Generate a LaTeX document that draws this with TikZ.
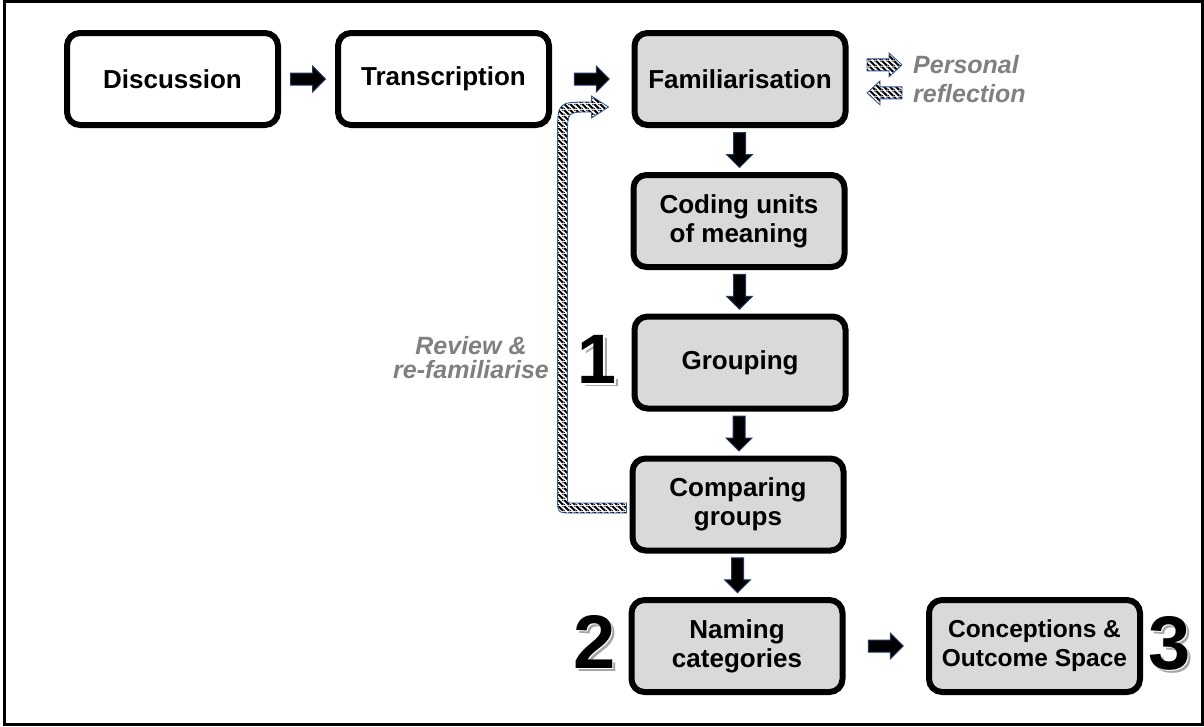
\documentclass[tikz,border=0pt]{standalone}
\usepackage{fontspec}
\setmainfont{Liberation Sans}
\usetikzlibrary{calc,patterns.meta}

\definecolor{boxfill}{HTML}{D9D9D9}
\definecolor{notegray}{HTML}{808080}
\definecolor{tipblue}{HTML}{203864}
\definecolor{loopblue}{HTML}{2F5597}
\definecolor{shadowgray}{HTML}{A6A6A6}

% diagonal black/white hatching used for the reflection and review arrows
\tikzdeclarepattern{
  name=hatch,
  type=colored,
  bounding box={(0pt,0pt) and (6pt,6pt)},
  tile size={(6pt,6pt)},
  code={
    \fill[white] (0pt,0pt) rectangle (6pt,6pt);
    \fill[black] (0pt,4.4pt) -- (0pt,6pt) -- (1.6pt,6pt) -- (6pt,1.6pt)
      -- (6pt,0pt) -- (4.4pt,0pt) -- cycle;
    \fill[black] (0pt,0pt) -- (1.6pt,0pt) -- (0pt,1.6pt) -- cycle;
    \fill[black] (6pt,6pt) -- (4.4pt,6pt) -- (6pt,4.4pt) -- cycle;
  }
}

\newcommand\phasedigit[1]{%
  \makebox[0pt][l]{\kern3.5pt\raisebox{-3pt}{\color{shadowgray}#1}}%
  \makebox[0pt][l]{\kern1.5pt\raisebox{-1.5pt}{\color{white}#1}}%
  #1}

\tikzset{
  stage/.style={draw=black, line width=6pt, rounded corners=13pt,
    minimum width=211pt, minimum height=92pt, inner sep=0pt,
    align=center, font=\fontsize{26}{29}\selectfont\bfseries},
  note/.style={text=notegray, inner sep=0pt,
    font=\fontsize{25}{29}\selectfont\bfseries\itshape},
  bignum/.style={inner sep=0pt, font=\fontsize{76}{76}\selectfont\bfseries},
  blockarrow/.pic={
    \filldraw[fill=black, draw=tipblue, line width=1pt]
      (-17.5,-6) -- (4.5,-6) -- (4.5,-13) -- (17.5,0) -- (4.5,13)
      -- (4.5,6) -- (-17.5,6) -- cycle;
  },
  checkarrow/.pic={
    \filldraw[pattern=hatch, draw=loopblue, line width=0.8pt]
      (-17.5,-6) -- (4.5,-6) -- (4.5,-12) -- (17.5,0) -- (4.5,12)
      -- (4.5,6) -- (-17.5,6) -- cycle;
  },
}

\begin{document}
\begin{tikzpicture}[x=1pt, y=-1pt]
\useasboundingbox (0,0) rectangle (1204,726);

% outer frame
\draw[line width=2.5pt] (4.5,1.5) rectangle (1202.5,724.5);

% process stages
\node[stage, fill=white]   (disc)  at (172.5,79)  {Discussion};
\node[stage, fill=white]   (trans) at (443.5,79)  {Transcription};
\node[stage, fill=boxfill] (fam)   at (740,79)    {Familiarisation};
\node[stage, fill=boxfill] (code)  at (739,221)   {Coding units\\of meaning};
\node[stage, fill=boxfill] (group) at (740,362.5) {Grouping};
\node[stage, fill=boxfill] (comp)  at (738,504.5) {Comparing\\groups};
\node[stage, fill=boxfill] (name)  at (737,646)   {Naming\\categories};
\node[stage, fill=boxfill, font=\fontsize{24.5}{29}\selectfont\bfseries]
  (conc) at (1034.5,646) {Conceptions \&\\Outcome Space};

% flow arrows between stages
\pic at ($(disc.east)!0.5!(trans.west)$) {blockarrow};
\pic at ($(trans.east)!0.5!(fam.west)$) {blockarrow};
\pic[rotate=-90] at ($(fam.south)!0.5!(code.north)$) {blockarrow};
\pic[rotate=-90] at ($(code.south)!0.5!(group.north)$) {blockarrow};
\pic[rotate=-90] at ($(group.south)!0.5!(comp.north)$) {blockarrow};
\pic[rotate=-90] at ($(comp.south)!0.5!(name.north)$) {blockarrow};
\pic at ($(name.east)!0.5!(conc.west)$) {blockarrow};

% personal reflection
\node[note, anchor=north west, align=left] (refl) at (913,55) {Personal\\reflection};
\pic at ($(refl.west)+(-28.5,-14)$) {checkarrow};
\pic[rotate=180] at ($(refl.west)+(-28.5,14)$) {checkarrow};

% review loop from comparing groups back to familiarisation
\coordinate (fbtail) at ($(comp.west)+(-3,3.5)$);
\coordinate (fbtip)  at ($(fam.west)+(-23,28)$);
\coordinate (fbx)    at ($(fbtail)+(-64,0)$);
\coordinate (fbc)    at (fbx |- fbtip);
\coordinate (fbb)    at (fbx |- fbtail);
\filldraw[pattern=hatch, draw=loopblue, line width=0.8pt]
  ($(fbtail)+(0,5)$) -- ($(fbb)+(10,5)$)
  .. controls ($(fbb)+(-5,5)$) .. ($(fbb)+(-5,-10)$)
  -- ($(fbc)+(-5,28)$)
  .. controls ($(fbc)+(-5,-5)$) .. ($(fbc)+(27,-5)$)
  -- ($(fbc)+(29,-5)$) -- ($(fbc)+(29,-11)$) -- (fbtip)
  -- ($(fbc)+(29,11)$) -- ($(fbc)+(29,5)$) -- ($(fbc)+(27,5)$)
  .. controls ($(fbc)+(5,5)$) .. ($(fbc)+(5,28)$)
  -- ($(fbb)+(5,-10)$)
  .. controls ($(fbb)+(5,-5)$) .. ($(fbb)+(10,-5)$)
  -- ($(fbtail)+(0,-5)$) -- cycle;
\node[note, anchor=north, align=center, font=\fontsize{25}{24}\selectfont\bfseries\itshape]
  (review) at (471,336) {Review \&\\re-familiarise};

% phase numbers with drop shadow
\node[bignum, font=\fontsize{70}{70}\selectfont\bfseries] (n1) at (597,361) {\phasedigit{1}};
\node[bignum] (n2) at (594.5,643) {\phasedigit{2}};
\node[bignum] (n3) at (1169.5,644.5) {\phasedigit{3}};
\end{tikzpicture}
\end{document}
